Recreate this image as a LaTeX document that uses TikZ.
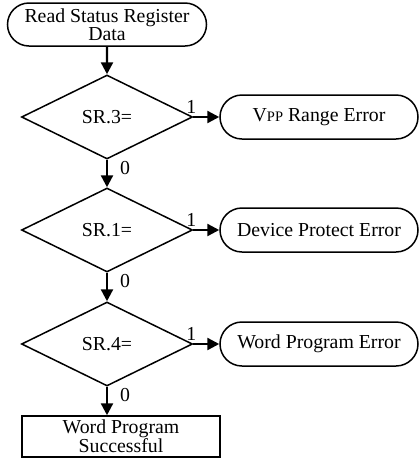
\documentclass[tikz,border=0pt]{standalone}
\usepackage{fontspec}
\setmainfont{Liberation Serif}
\usetikzlibrary{shapes.geometric,shapes.misc,arrows.meta,positioning}
\begin{document}
\begin{tikzpicture}[x=1pt,y=-1pt,
  font=\fontsize{19.8}{15.5}\selectfont,
  termbox/.style={draw,rounded rectangle,line width=1.5pt,minimum width=199pt,minimum height=43pt,inner sep=0pt,align=center},
  testbox/.style={draw,diamond,aspect=2,line width=1.5pt,minimum width=171pt,minimum height=84pt,inner sep=0pt},
  donebox/.style={draw,rectangle,line width=1.5pt,minimum width=198pt,minimum height=41pt,inner sep=0pt,align=center},
  flow/.style={line width=2.4pt,-{Triangle[length=12pt,width=12pt]}},
  yesbit/.style={above,inner sep=2pt,xshift=-2pt},
  nobit/.style={anchor=north west,inner sep=0pt,xshift=12pt}]
\useasboundingbox (0,0) rectangle (420,459);
%start and end
\node[termbox] (readSR) at (107,24.5) {Read Status Register\\Data};
\node[donebox] (progOK) at (121,436.5) {Word Program\\Successful};
%status bit tests and their errors
\foreach \bit/\yLoc/\errText in {3/117/{V{\fontsize{14.5}{15}\selectfont PP} Range Error},1/230/{Device Protect Error},4/344/{Word Program Error}}{
\node[testbox] (sr\bit) at (107,\yLoc) {SR.\bit=};
\node[termbox,minimum width=198pt,minimum height=44pt] (err\bit) at (319,\yLoc) {\errText};
\draw[flow] (sr\bit.east) -- node[yesbit,pos=0]{1} (err\bit.west);}
%main flow
\draw[flow] (readSR) -- (sr3);
\draw[flow] (sr3) -- node[nobit,pos=0]{0} (sr1);
\draw[flow] (sr1) -- node[nobit,pos=0]{0} (sr4);
\draw[flow] (sr4.south) -- node[nobit,pos=0]{0} (sr4.south |- progOK.north);
\end{tikzpicture}
\end{document}
